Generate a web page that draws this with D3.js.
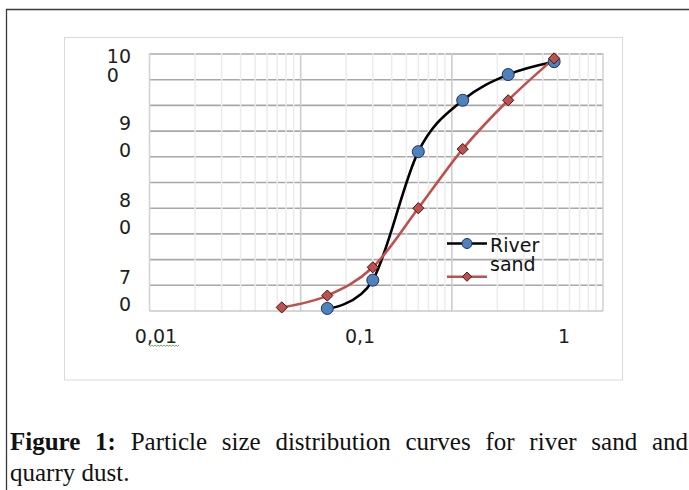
<!DOCTYPE html>
<html><head><meta charset="utf-8">
<script src="https://cdn.jsdelivr.net/npm/d3@7"></script>
<style>html,body{margin:0;padding:0;background:#fff;} svg{display:block}</style>
</head><body>
<svg id="c" width="689" height="490"></svg>
<script>
// ---- data ----
const sieveSizes = [0.075, 0.15, 0.3, 0.6, 1.18, 2.36, 4.75];
const riverSand  = [null, 1, 12, 62, 82, 92, 97];
const quarryDust = [1.4, 6, 17, 40, 63, 82, 98.3];
const seriesNames = ["River sand", "Quarry dust"];
const legendShown = ["River sand"];
const xTickValues = [0.01, 0.1, 1];
const xTickLabels = ["0,01", "0,1", "1"];
const yTickValues = [100, 90, 80, 70];
const yTickLabels = ["100", "90", "80", "70"];
const captionBold = "Figure 1:";
const captionLine1 = "Particle size distribution curves for river sand and";
const captionLine2 = "quarry dust.";

// ---- layout ----
const svg = d3.select("#c");
const FONT = "DejaVu Sans, Verdana, sans-serif";
const SERIF = "Liberation Serif, Times New Roman, serif";

svg.append("path").attr("d", "M6.5,490 V9.5 H689")
  .attr("fill", "none").attr("stroke", "#3a3a3a").attr("stroke-width", 1.3);
svg.append("rect").attr("x", 64.5).attr("y", 37.5).attr("width", 558).attr("height", 342.5)
  .attr("fill", "#fff").attr("stroke", "#dadada");

const x = d3.scaleLog().domain([0.01, 10]).range([149.5, 603]);
const y = d3.scaleLinear().domain([0, 100]).range([311, 54]);

const g = svg.append("g");
// horizontal gridlines
g.selectAll("line.h").data(d3.range(10, 101, 10)).join("line")
  .attr("x1", x(0.01)).attr("x2", x(10)).attr("y1", d => y(d)).attr("y2", d => y(d))
  .attr("stroke", "#a8a8a8").attr("stroke-width", 1.6);
// vertical gridlines (drawn over, light)
const vt = x.ticks();
const isDecade = d => { const l = Math.log10(d); return Math.abs(l - Math.round(l)) < 1e-9; };
g.selectAll("line.v").data(vt).join("line")
  .attr("x1", d => x(d)).attr("x2", d => x(d)).attr("y1", y(100) - 1).attr("y2", y(0))
  .attr("stroke", d => isDecade(d) ? ((d === 0.01 || d === 10) ? "#d4d4d4" : "#cdcdcd") : "#ececec")
  .attr("stroke-width", d => isDecade(d) ? 1.6 : 1.5);
// x axis line
g.append("line").attr("x1", x(0.01)).attr("x2", x(10)).attr("y1", y(0)).attr("y2", y(0))
  .attr("stroke", "#c8c8c8").attr("stroke-width", 1.6);

// y labels (wrapped)
const yLabel = d3.scaleLinear().domain([70, 100]).range([y(10), y(100)]);
yTickValues.forEach((v, i) => {
  const s = yTickLabels[i];
  const l1 = s.slice(0, s.length - 1), l2 = s.slice(s.length - 1);
  const top = i === 0;
  const b1 = top ? yLabel(v) + 8.7 : yLabel(v) - 1;
  const b2 = top ? b1 + 19.5 : b1 + 26.5;
  const t1 = svg.append("text").attr("x", 131).attr("y", b1).attr("text-anchor", "end")
    .attr("font-family", FONT).attr("font-size", 19).attr("fill", "#1e1e1e").text(l1);
  const startX = 131 - t1.node().getComputedTextLength();
  svg.append("text").attr("x", startX).attr("y", b2)
    .attr("font-family", FONT).attr("font-size", 19).attr("fill", "#1e1e1e").text(l2);
});

// x labels
const xLabel = d3.scaleLog().domain([0.01, 1]).range([x(0.01) + 6.5, x(0.01) + 6.5 + 408]);
xTickValues.forEach((v, i) => {
  svg.append("text").attr("x", xLabel(v)).attr("y", 342.5).attr("text-anchor", "middle")
    .attr("font-family", FONT).attr("font-size", 19).attr("fill", "#1e1e1e").text(xTickLabels[i]);
});
// spell-check squiggle under "01"
(function () {
  const x0 = xLabel(0.01) - 7, x1 = xLabel(0.01) + 22, yy = 345;
  let d = `M${x0},${yy}`;
  for (let xx = x0, k = 0; xx < x1; xx += 1.5, k++) d += ` L${xx + 1.5},${yy + (k % 2 ? 0 : 1.3)}`;
  svg.append("path").attr("d", d).attr("fill", "none").attr("stroke", "#4aa84a").attr("stroke-width", 0.9);
})();

// series
const curve = d3.curveCardinal.tension(0);
const line = d3.line().x(d => x(d[0])).y(d => y(d[1])).curve(curve);
const rs = sieveSizes.map((s, i) => [s, riverSand[i]]).filter(d => d[1] != null);
const qd = sieveSizes.map((s, i) => [s, quarryDust[i]]);
svg.append("path").attr("d", line(rs)).attr("fill", "none").attr("stroke", "#000").attr("stroke-width", 2.6);
svg.append("path").attr("d", line(qd)).attr("fill", "none").attr("stroke", "#c0504d").attr("stroke-width", 2.6);

const diamond = (cx, cy, r) => `M${cx},${cy - r} L${cx + r},${cy} L${cx},${cy + r} L${cx - r},${cy} Z`;
svg.selectAll("circle.rs").data(rs).join("circle")
  .attr("cx", d => x(d[0])).attr("cy", d => y(d[1])).attr("r", 6)
  .attr("fill", "#4f81bd").attr("stroke", "#1c3456").attr("stroke-width", 1);
svg.selectAll("path.qd").data(qd).join("path")
  .attr("d", d => diamond(x(d[0]), y(d[1]), 5.6))
  .attr("fill", "#c0504d").attr("stroke", "#3a1716").attr("stroke-width", 1);

// legend
const lg = svg.append("g");
lg.append("line").attr("x1", 447).attr("x2", 487).attr("y1", 243.5).attr("y2", 243.5)
  .attr("stroke", "#000").attr("stroke-width", 2.6);
lg.append("circle").attr("cx", 467).attr("cy", 243.5).attr("r", 5)
  .attr("fill", "#4f81bd").attr("stroke", "#1c3456").attr("stroke-width", 1);
lg.append("line").attr("x1", 447).attr("x2", 487).attr("y1", 276.7).attr("y2", 276.7)
  .attr("stroke", "#c0504d").attr("stroke-width", 2.6);
lg.append("path").attr("d", diamond(467, 276.7, 4.6))
  .attr("fill", "#c0504d").attr("stroke", "#3a1716").attr("stroke-width", 1);
const words = legendShown[0].split(" ");
lg.append("text").attr("x", 490).attr("y", 252.3).attr("font-family", FONT).attr("font-size", 19).attr("fill", "#111").text(words[0]);
lg.append("text").attr("x", 490).attr("y", 270.7).attr("font-family", FONT).attr("font-size", 19).attr("fill", "#111").text(words[1]);

// caption (justified first line)
const capSize = 25;
const left = 10, right = 688, base1 = 450, base2 = 481;
const tokens = captionBold.split(" ").map(t => ({t, b: true})).concat(captionLine1.split(" ").map(t => ({t, b: false})));
const nodes = tokens.map(tk => svg.append("text").attr("y", base1).attr("font-family", SERIF)
  .attr("font-size", capSize).attr("font-weight", tk.b ? "bold" : "normal").attr("fill", "#111").text(tk.t));
const widths = nodes.map(n => n.node().getComputedTextLength());
const gap = (right - left - d3.sum(widths)) / (tokens.length - 1);
let cx = left;
nodes.forEach((n, i) => { n.attr("x", cx); cx += widths[i] + gap; });
svg.append("text").attr("x", left).attr("y", base2).attr("font-family", SERIF)
  .attr("font-size", capSize).attr("fill", "#111").text(captionLine2);
</script>
</body></html>
